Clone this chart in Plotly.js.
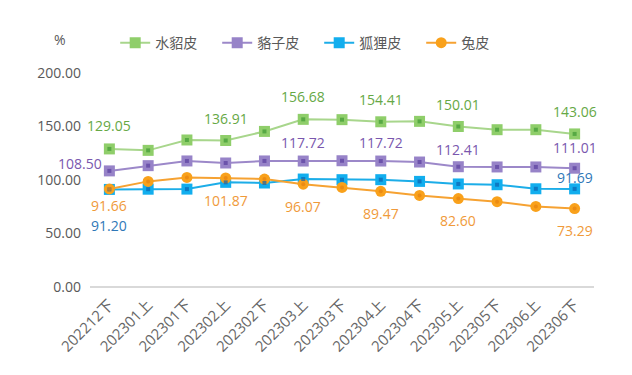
<!DOCTYPE html>
<html><head><meta charset="utf-8">
<script src="https://cdn.plot.ly/plotly-3.0.1.min.js"></script>
<style>html,body{margin:0;padding:0;background:#fff}#chart{width:632px;height:375px}</style>
</head><body><div id="chart"></div>
<script>
const categories = ['202212下','202301上','202301下','202302上','202302下','202303上','202303下','202304上','202304下','202305上','202305下','202306上','202306下'];
const mink    = [129.05,127.7,137.4,136.91,145.4,156.68,156.4,154.41,154.8,150.01,147.0,147.0,143.06];
const raccoon = [108.50,113.4,117.8,115.9,117.8,117.72,118.0,117.72,116.8,112.41,112.2,112.2,111.01];
const fox     = [91.20,91.4,91.5,97.8,97.2,100.9,100.3,100.3,98.7,96.3,95.6,91.8,91.69];
const rabbit  = [91.66,98.7,102.4,101.87,100.9,96.07,93.1,89.47,85.6,82.60,79.7,75.3,73.29];
const seriesNames = ['水貂皮','貉子皮','狐狸皮','兔皮'];
const yTickVals = [0,50,100,150,200];

// label placement: [index, xshift, yshift]
const labelSpecs = [
  [[0,0,23],[3,0,22],[5,0,23],[7,0,22],[9,0,22],[12,0,22]],
  [[0,-29,7],[5,0,19],[7,0,19],[9,0,17],[12,0,21]],
  [[0,0,-36],[12,0,11]],
  [[0,0,-17],[3,0,-22],[5,0,-22],[7,0,-22],[9,0,-22],[12,0,-22]]
];
const values = [mink, raccoon, fox, rabbit];
const lineColors = ['#a8d68c','#9c88c9','#1cade8','#f6a232'];
const markerColors = ['#8fce6a','#9783c8','#12aeee','#f9a11b'];
const centerColors = ['#3f9a34','#5a3e9e','#0b62b0','#e7820f'];
const textColors = ['#66a845','#7a57ae','#2f78b8','#f09a3a'];
const symbols = ['square','square','square','circle'];

const font = 'Open Sans, Noto Sans CJK SC, sans-serif';
const traces = [];
values.forEach((v,k)=>{
  traces.push({
    x: categories, y: v, name: seriesNames[k], type:'scatter', mode:'lines+markers',
    line:{color:lineColors[k], width:2},
    marker:{symbol:symbols[k], size:11, color:markerColors[k], line:{width:0}},
    hoverinfo:'skip'
  });
});
values.forEach((v,k)=>{
  traces.push({
    x: categories, y: v, type:'scatter', mode:'markers', showlegend:false,
    marker:{symbol:symbols[k], size:4, color:centerColors[k], opacity:0.7},
    hoverinfo:'skip'
  });
});
const annotations = [];
labelSpecs.forEach((specs,k)=>{
  specs.forEach(([i,xs,ys])=>{
    annotations.push({x:categories[i], y:values[k][i], xref:'x', yref:'y',
      text: values[k][i].toFixed(2), showarrow:false, xshift:xs, yshift:ys,
      font:{family:font, size:14, color:textColors[k]}});
  });
});
annotations.push({xref:'paper', yref:'paper', x:-0.06, y:1.155, xanchor:'center', yanchor:'middle',
  text:'%', showarrow:false, font:{family:font, size:14, color:'#595959'}});

const layout = {
  width:632, height:375,
  margin:{l:90, r:38, t:73, b:88, autoexpand:false},
  paper_bgcolor:'#fff', plot_bgcolor:'#fff',
  font:{family:font, size:14, color:'#595959'},
  showlegend:true,
  legend:{orientation:'h', x:0.05, y:1.14, xanchor:'left', yanchor:'middle',
    entrywidth:57, entrywidthmode:'pixels', font:{family:font, size:14, color:'#595959'}},
  xaxis:{type:'category', range:[-0.5,12.5], showgrid:false, zeroline:false,
    showline:false, tickangle:-45, ticks:'', ticklabelstandoff:5,
    tickfont:{family:font, size:15, color:'#666666'}},
  yaxis:{range:[0,200], tickvals:yTickVals, ticktext:yTickVals.map(t=>t.toFixed(2)),
    showgrid:false, zeroline:true, zerolinecolor:'#d9d9d9', zerolinewidth:1.5,
    showline:false, ticks:'', ticklabelstandoff:8, tickfont:{family:font, size:14, color:'#595959'}},
  annotations: annotations
};
Plotly.newPlot('chart', traces, layout, {displayModeBar:false, staticPlot:true});
</script></body></html>
